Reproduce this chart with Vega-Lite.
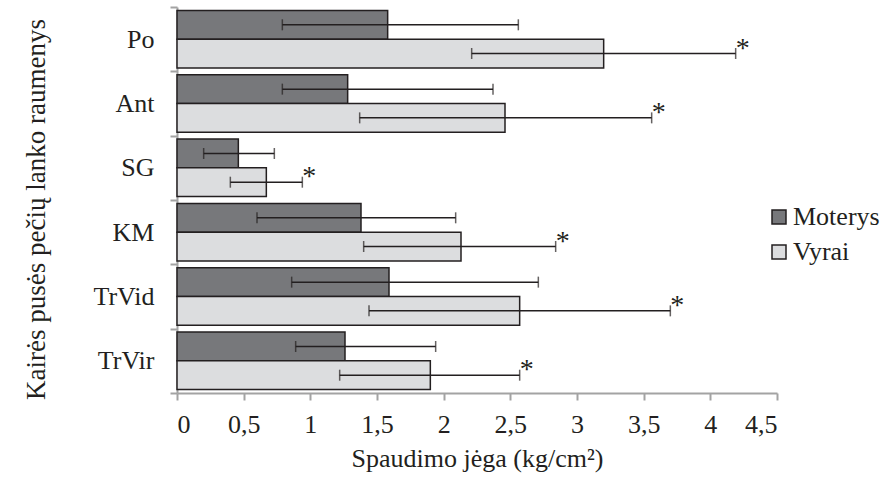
{
  "$schema": "https://vega.github.io/schema/vega-lite/v6.json",
  "width": 600,
  "height": 386,
  "autosize": "none",
  "padding": {"left": 177, "top": 7, "right": 106, "bottom": 87},
  "background": "white",
  "data": {
    "values": [
      {"muscle": "Po", "sex": "Moterys", "value": 1.58, "lo": 0.79, "hi": 2.56, "star": ""},
      {"muscle": "Po", "sex": "Vyrai", "value": 3.2, "lo": 2.21, "hi": 4.19, "star": "*"},
      {"muscle": "Ant", "sex": "Moterys", "value": 1.28, "lo": 0.79, "hi": 2.37, "star": ""},
      {"muscle": "Ant", "sex": "Vyrai", "value": 2.46, "lo": 1.37, "hi": 3.56, "star": "*"},
      {"muscle": "SG", "sex": "Moterys", "value": 0.46, "lo": 0.2, "hi": 0.73, "star": ""},
      {"muscle": "SG", "sex": "Vyrai", "value": 0.67, "lo": 0.4, "hi": 0.94, "star": "*"},
      {"muscle": "KM", "sex": "Moterys", "value": 1.38, "lo": 0.6, "hi": 2.09, "star": ""},
      {"muscle": "KM", "sex": "Vyrai", "value": 2.13, "lo": 1.4, "hi": 2.84, "star": "*"},
      {"muscle": "TrVid", "sex": "Moterys", "value": 1.59, "lo": 0.86, "hi": 2.71, "star": ""},
      {"muscle": "TrVid", "sex": "Vyrai", "value": 2.57, "lo": 1.44, "hi": 3.7, "star": "*"},
      {"muscle": "TrVir", "sex": "Moterys", "value": 1.26, "lo": 0.89, "hi": 1.94, "star": ""},
      {"muscle": "TrVir", "sex": "Vyrai", "value": 1.9, "lo": 1.22, "hi": 2.57, "star": "*"}
    ]
  },
  "encoding": {
    "y": {
      "field": "muscle",
      "type": "nominal",
      "sort": ["Po", "Ant", "SG", "KM", "TrVid", "TrVir"],
      "scale": {"paddingInner": 0, "paddingOuter": 0},
      "axis": {
        "title": "Kairės pusės pečių lanko raumenys",
        "tickBand": "extent",
        "titleX": -141,
        "titleY": 202,
        "titleAngle": 270,
        "titleAlign": "center",
        "titleBaseline": "middle",
        "titleFontSize": 27,
        "labelPadding": 16
      }
    },
    "yOffset": {
      "field": "sex",
      "type": "nominal",
      "scale": {"paddingInner": 0, "paddingOuter": 0.12}
    }
  },
  "layer": [
    {
      "mark": {"type": "bar", "stroke": "#231f20", "strokeWidth": 1.5},
      "encoding": {
        "x": {
          "field": "value",
          "type": "quantitative",
          "scale": {"domain": [0, 4.5], "nice": false},
          "axis": {
            "title": "Spaudimo jėga (kg/cm²)",
            "values": [0, 0.5, 1, 1.5, 2, 2.5, 3, 3.5, 4, 4.5],
            "labelExpr": "replace(format(datum.value, '~g'), '.', ',')",
            "grid": false,
            "labelPadding": 11,
            "titlePadding": 8
          }
        },
        "color": {
          "field": "sex",
          "type": "nominal",
          "scale": {"domain": ["Moterys", "Vyrai"], "range": ["#77787b", "#dcdddf"]},
          "legend": {
            "title": null,
            "orient": "none",
            "legendX": 589,
            "legendY": 197,
            "symbolType": "square",
            "symbolSize": 196,
            "symbolStrokeColor": "#231f20",
            "symbolStrokeWidth": 1.5,
            "labelFontSize": 26,
            "labelFont": "Liberation Serif",
            "labelColor": "#231f20",
            "labelOffset": 1,
            "rowPadding": 9,
            "padding": 0
          }
        }
      }
    },
    {
      "mark": {"type": "rule", "stroke": "#231f20", "strokeWidth": 1.5},
      "encoding": {
        "x": {"field": "lo", "type": "quantitative"},
        "x2": {"field": "hi"}
      }
    },
    {
      "mark": {"type": "tick", "color": "#231f20", "thickness": 1.5, "size": 11},
      "encoding": {"x": {"field": "lo", "type": "quantitative"}}
    },
    {
      "mark": {"type": "tick", "color": "#231f20", "thickness": 1.5, "size": 11},
      "encoding": {"x": {"field": "hi", "type": "quantitative"}}
    },
    {
      "mark": {"type": "text", "font": "Liberation Serif", "fontSize": 28, "color": "#231f20", "align": "left", "baseline": "alphabetic", "dx": 0, "dy": 3},
      "encoding": {
        "x": {"field": "hi", "type": "quantitative"},
        "text": {"field": "star"}
      }
    }
  ],
  "config": {
    "view": {"stroke": null},
    "font": "Liberation Serif",
    "axis": {
      "labelFont": "Liberation Serif",
      "titleFont": "Liberation Serif",
      "labelFontSize": 26,
      "titleFontSize": 26,
      "titleFontWeight": "normal",
      "labelColor": "#231f20",
      "titleColor": "#231f20",
      "domainColor": "#a3a3a3",
      "tickColor": "#a3a3a3",
      "domainWidth": 2,
      "tickWidth": 2,
      "tickSize": 7
    }
  }
}
